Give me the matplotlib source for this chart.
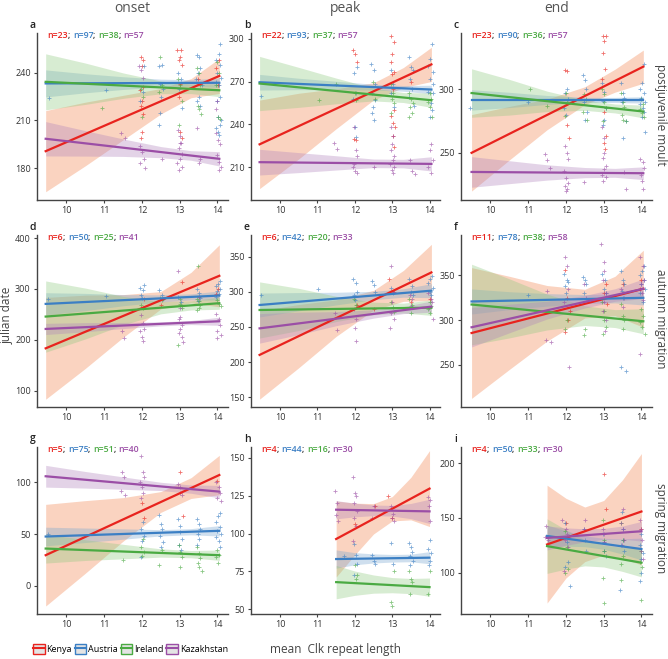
import matplotlib
matplotlib.use('Agg')
import matplotlib.pyplot as plt
from matplotlib.patches import Rectangle
from matplotlib.lines import Line2D

plt.rcParams['font.family'] = ['Open Sans', 'DejaVu Sans']

# группы и цвета
groups = ['Kenya', 'Austria', 'Ireland', 'Kazakhstan']
line_colors = ['#e8231e', '#3b7fc4', '#4aaa42', '#9b4ea6']
band_colors = ['#f3814b', '#76a6d1', '#8fc97f', '#b083bd']

col_titles = ['onset', 'peak', 'end']
row_titles = ['postjuvenile moult', 'autumn migration', 'spring migration']
x_ticks = [10, 11, 12, 13, 14]

# ---------- a: onset, postjuvenile moult ----------
a_n = [23, 97, 38, 57]
a_fit_x = [9.45, 14.05]
a_fit_y = [[190.7, 238.0], [233.3, 233.7], [234.3, 229.0], [198.5, 185.9]]
a_band_x = [9.45, 10.5, 11.5, 12.5, 13.3, 14.05]
a_band_lo = [[165.2, 181.5, 197.8, 214.1, 224.3, 227.0],
             [224.8, 227.4, 229.5, 231.0, 231.6, 230.7],
             [216.7, 220.1, 223.9, 226.8, 226.9, 225.0],
             [187.7, 187.6, 187.4, 186.6, 185.0, 181.4]]
a_band_hi = [[216.2, 221.5, 225.8, 230.1, 236.3, 249.0],
             [241.8, 239.4, 237.5, 236.0, 235.6, 236.7],
             [251.9, 246.1, 239.9, 234.8, 232.9, 233.0],
             [209.3, 203.6, 198.4, 193.6, 191.0, 190.4]]
a_pts = [
    [(11.97, 250), (12.02, 248), (11.99, 244), (12.03, 231), (11.96, 229), (12.01, 222), (11.98, 219),
     (12.04, 214), (12.0, 203), (11.97, 199), (12.94, 254), (13.04, 254), (13.0, 250), (12.98, 248),
     (13.06, 245), (13.02, 233), (12.97, 225), (13.01, 203), (13.05, 199), (13.48, 236), (14.02, 232),
     (13.96, 243), (14.05, 248)],
    [(9.55, 224), (11.04, 229), (12.02, 228), (11.95, 222), (12.06, 244), (12.45, 244), (12.52, 245),
     (12.48, 233), (12.55, 230), (12.5, 225), (12.47, 215), (12.44, 207), (12.96, 240), (13.03, 236),
     (12.99, 230), (13.05, 218), (13.46, 251), (13.52, 250), (13.55, 243), (13.49, 240), (13.44, 236),
     (13.58, 232), (13.5, 225), (13.47, 222), (13.53, 219), (14.08, 258), (14.03, 252), (13.97, 248),
     (14.06, 245), (14.0, 240), (14.1, 237), (13.95, 234), (14.04, 232), (14.07, 225), (13.98, 222),
     (14.02, 212), (14.09, 210), (13.96, 205), (14.05, 201), (14.01, 203), (14.08, 207)],
    [(10.95, 218), (12.0, 212), (12.04, 225), (11.97, 230), (12.48, 250), (12.53, 232), (12.46, 228),
     (12.96, 236), (13.02, 232), (13.05, 222), (12.99, 207), (13.45, 243), (13.5, 240), (13.55, 232),
     (13.48, 219), (13.52, 217), (13.56, 214), (14.0, 247), (14.05, 240), (13.97, 232), (14.02, 212),
     (14.07, 211)],
    [(11.45, 202), (11.55, 199), (11.93, 244), (11.98, 242), (12.02, 237), (12.05, 186), (11.96, 183),
     (12.08, 180), (12.0, 190), (11.95, 194), (12.52, 186), (12.95, 204), (13.02, 200), (13.0, 196),
     (12.97, 193), (13.05, 189), (13.01, 186), (12.94, 183), (13.06, 181), (12.99, 179), (13.03, 196),
     (13.47, 205), (13.53, 186), (13.5, 183), (13.95, 202), (14.02, 198), (14.07, 195), (13.98, 188),
     (14.04, 184), (14.1, 181), (14.05, 179), (13.97, 217), (14.0, 222)],
]

# ---------- b: peak, postjuvenile moult ----------
b_n = [22, 93, 37, 57]
b_fit_x = [9.45, 14.05]
b_fit_y = [[226.0, 282.0], [269.5, 264.4], [268.6, 256.9], [213.5, 212.3]]
b_band_x = [9.45, 10.5, 11.5, 12.5, 13.3, 14.05]
b_band_lo = [[195.0, 215.8, 236.9, 257.1, 265.8, 270.0],
             [264.0, 264.3, 264.2, 264.1, 263.2, 261.4],
             [249.6, 251.9, 254.4, 256.4, 255.3, 251.9],
             [204.5, 206.2, 208.0, 209.7, 209.5, 207.3]]
b_band_hi = [[257.0, 261.8, 264.9, 269.1, 279.8, 294.0],
             [275.0, 272.3, 270.2, 268.1, 267.2, 267.4],
             [287.6, 279.9, 272.4, 265.4, 262.3, 261.9],
             [222.5, 220.2, 218.0, 215.7, 215.5, 217.3]]
b_pts = [
    [(11.96, 292), (12.01, 289), (12.05, 284), (11.98, 230), (12.03, 229), (12.96, 302), (13.04, 298),
     (13.0, 289), (12.97, 284), (13.05, 277), (12.99, 275), (13.02, 265), (13.06, 250), (12.98, 246),
     (13.03, 241), (13.07, 238), (13.01, 232), (13.04, 224), (13.5, 270)],
    [(9.5, 260), (12.05, 280), (11.97, 276), (12.02, 262), (11.95, 258), (12.0, 238), (12.04, 231),
     (12.44, 282), (12.5, 278), (12.55, 268), (12.47, 262), (12.53, 257), (12.49, 252), (12.45, 248),
     (12.52, 243), (12.96, 278), (13.02, 268), (12.98, 262), (13.05, 252), (13.45, 287), (13.5, 280),
     (13.55, 278), (13.48, 272), (13.52, 265), (13.46, 259), (13.58, 253), (14.06, 296), (14.02, 286),
     (13.97, 281), (14.08, 277), (14.0, 272), (14.1, 268), (13.95, 263), (14.04, 255), (14.07, 250),
     (14.01, 245), (14.09, 262)],
    [(11.05, 257), (11.5, 268), (12.0, 262), (12.04, 257), (12.48, 270), (12.53, 258), (12.96, 268),
     (13.02, 262), (13.0, 258), (13.05, 255), (12.98, 248), (13.45, 262), (13.5, 258), (13.55, 255),
     (13.48, 252), (13.52, 248), (13.46, 245), (14.0, 262), (14.05, 258), (13.97, 256), (14.02, 252),
     (14.07, 245)],
    [(11.45, 227), (11.52, 223), (11.97, 238), (12.02, 222), (12.05, 218), (11.95, 210), (12.0, 207),
     (12.06, 206), (11.98, 212), (12.5, 210), (12.96, 238), (13.02, 232), (13.0, 226), (12.97, 222),
     (13.05, 218), (13.01, 215), (12.95, 212), (13.06, 210), (12.99, 208), (13.03, 206), (13.47, 215),
     (13.53, 207), (13.6, 205), (14.05, 226), (14.0, 222), (14.08, 215), (13.97, 210), (14.03, 206)],
]

# ---------- c: end, postjuvenile moult ----------
c_n = [23, 90, 36, 57]
c_fit_x = [9.5, 14.05]
c_fit_y = [[250.0, 317.6], [291.5, 291.5], [296.9, 282.4], [235.0, 234.0]]
c_band_x = [9.5, 10.5, 11.5, 12.5, 13.3, 14.05]
c_band_lo = [[220.0, 244.4, 268.1, 287.8, 297.6, 304.6],
             [283.5, 285.5, 288.0, 289.5, 289.5, 289.0],
             [277.9, 279.6, 282.4, 283.3, 281.3, 277.4],
             [223.0, 225.8, 228.6, 230.5, 230.8, 229.0]]
c_band_hi = [[280.0, 286.4, 292.1, 301.8, 315.6, 330.6],
             [299.5, 297.5, 295.0, 293.5, 293.5, 294.0],
             [315.9, 307.6, 298.4, 291.3, 288.3, 287.4],
             [247.0, 243.8, 240.6, 238.5, 237.8, 239.0]]
c_pts = [
    [(11.97, 315), (12.02, 314), (12.04, 272), (12.07, 262), (12.98, 342), (13.05, 342), (13.01, 338),
     (12.97, 328), (13.03, 316), (12.96, 308), (13.02, 282), (13.06, 263), (13.0, 258), (13.04, 253)],
    [(9.45, 285), (11.0, 290), (12.02, 300), (11.97, 297), (12.05, 292), (11.95, 285), (12.0, 280),
     (12.45, 311), (12.5, 307), (12.53, 300), (12.47, 290), (12.55, 282), (12.5, 276), (12.96, 305),
     (13.02, 298), (12.99, 291), (13.05, 285), (13.0, 276), (12.97, 272), (13.45, 305), (13.5, 297),
     (13.55, 293), (13.48, 290), (13.52, 262), (13.58, 275), (14.06, 320), (14.02, 305), (13.97, 300),
     (14.08, 297), (14.0, 293), (14.1, 290), (13.95, 288), (14.04, 285), (14.07, 282), (14.01, 278),
     (14.09, 266)],
    [(11.05, 300), (11.5, 287), (12.0, 297), (12.04, 290), (11.97, 279), (12.48, 296), (12.53, 292),
     (12.46, 282), (12.55, 276), (12.96, 300), (13.02, 296), (13.0, 290), (13.05, 285), (12.98, 275),
     (13.45, 297), (13.5, 290), (13.55, 286), (13.48, 280), (13.52, 276), (13.58, 275), (14.0, 292),
     (14.05, 288), (13.97, 284), (14.02, 281), (14.07, 278)],
    [(11.45, 249), (11.5, 244), (11.58, 238), (11.97, 255), (12.02, 250), (12.05, 245), (11.95, 236),
     (12.0, 230), (12.06, 226), (11.98, 224), (12.03, 222), (12.01, 220), (12.47, 227), (12.96, 270),
     (13.02, 262), (13.0, 250), (12.97, 246), (13.05, 240), (13.01, 237), (12.95, 233), (13.06, 231),
     (12.99, 228), (13.53, 235), (13.6, 222), (13.95, 245), (14.04, 243), (14.07, 238), (13.98, 233),
     (14.02, 228), (14.05, 222)],
]

# ---------- d: onset, autumn migration ----------
d_n = [6, 50, 25, 41]
d_fit_x = [9.45, 14.05]
d_fit_y = [[183.3, 325.8], [270.6, 287.0], [245.7, 272.0], [221.4, 236.5]]
d_band_x = [9.45, 10.5, 11.5, 12.5, 13.3, 14.05]
d_band_lo = [[83.3, 143.8, 204.8, 260.8, 272.6, 264.8],
             [248.6, 257.3, 266.9, 274.4, 278.3, 278.0],
             [175.7, 201.7, 229.4, 251.1, 258.7, 260.0],
             [210.4, 215.8, 222.1, 227.4, 230.0, 228.5]]
d_band_hi = [[283.3, 287.8, 288.8, 294.8, 332.6, 386.8],
             [292.6, 291.3, 288.9, 288.4, 290.3, 296.0],
             [315.7, 301.7, 285.4, 275.1, 276.7, 284.0],
             [232.4, 233.8, 234.1, 235.4, 238.0, 244.5]]
d_pts = [
    [(12.05, 281), (12.5, 268), (13.05, 314), (13.95, 291), (14.02, 300), (13.5, 285)],
    [(9.5, 280), (11.05, 286), (11.95, 302), (12.02, 298), (12.06, 308), (11.98, 288), (12.0, 282),
     (12.45, 298), (12.52, 288), (12.55, 280), (12.96, 285), (13.03, 275), (13.45, 300), (13.5, 292),
     (13.55, 283), (13.48, 276), (14.06, 315), (14.02, 310), (13.97, 305), (14.08, 300), (14.0, 296),
     (14.04, 290), (13.96, 284)],
    [(11.97, 268), (12.03, 262), (12.48, 283), (12.53, 278), (12.96, 190), (13.02, 280), (13.0, 270),
     (13.05, 263), (13.48, 346), (13.45, 280), (13.5, 276), (13.55, 268), (13.52, 263), (13.47, 258),
     (14.0, 278), (14.05, 270), (14.1, 266)],
    [(11.47, 218), (11.52, 203), (11.97, 248), (12.02, 234), (12.05, 222), (11.96, 217), (12.0, 205),
     (12.04, 198), (12.96, 335), (13.02, 262), (13.0, 245), (12.97, 240), (13.05, 230), (13.01, 222),
     (12.98, 214), (13.06, 205), (13.1, 195), (13.95, 250), (14.04, 240), (14.07, 230), (13.98, 218),
     (14.1, 210), (14.0, 204)],
]

# ---------- e: peak, autumn migration ----------
e_n = [6, 42, 20, 33]
e_fit_x = [9.45, 14.05]
e_fit_y = [[210.2, 327.7], [281.3, 301.7], [274.2, 277.5], [248.0, 279.0]]
e_band_x = [9.45, 10.5, 11.5, 12.5, 13.3, 14.05]
e_band_lo = [[147.2, 192.0, 236.6, 274.1, 286.5, 287.7],
             [264.3, 273.0, 281.4, 288.8, 292.4, 291.7],
             [234.2, 245.0, 257.7, 267.4, 269.9, 266.5],
             [227.0, 239.1, 251.8, 262.6, 269.0, 271.0]]
e_band_hi = [[273.2, 282.0, 288.6, 302.1, 330.5, 367.7],
             [298.3, 299.0, 299.4, 300.8, 304.4, 311.7],
             [314.2, 305.0, 293.7, 285.4, 283.9, 288.5],
             [269.0, 271.1, 271.8, 274.6, 279.0, 287.0]]
e_pts = [
    [(12.05, 282), (12.92, 318), (13.05, 300), (14.0, 290), (13.5, 285), (12.5, 275)],
    [(9.5, 295), (11.02, 304), (11.95, 318), (12.02, 312), (12.05, 300), (11.98, 295), (12.0, 288),
     (12.45, 316), (12.5, 310), (12.53, 300), (12.97, 305), (13.03, 298), (13.45, 318), (13.52, 308),
     (13.5, 300), (13.55, 295), (14.06, 322), (14.02, 318), (13.97, 312), (14.08, 305), (14.0, 300),
     (14.04, 295)],
    [(11.98, 290), (12.03, 282), (12.97, 285), (13.02, 278), (13.05, 272), (13.45, 290), (13.52, 282),
     (13.5, 270), (14.0, 285), (14.05, 280), (13.97, 275), (14.02, 270)],
    [(11.47, 270), (11.52, 245), (11.97, 275), (12.02, 262), (12.0, 248), (12.03, 230), (12.96, 337),
     (13.02, 300), (13.0, 285), (12.97, 270), (13.05, 262), (12.94, 248), (13.47, 295), (13.53, 290),
     (13.5, 280), (13.95, 298), (14.04, 290), (14.07, 285), (13.98, 277), (14.1, 262)],
]

# ---------- f: end, autumn migration ----------
f_n = [11, 78, 38, 58]
f_fit_x = [9.5, 14.05]
f_fit_y = [[285.6, 335.0], [320.8, 324.9], [317.4, 298.7], [292.0, 335.0]]
f_band_x = [9.5, 10.5, 11.5, 12.5, 13.3, 14.05]
f_band_lo = [[212.6, 244.9, 276.6, 302.4, 304.9, 292.0],
             [306.8, 311.7, 315.6, 318.5, 319.2, 316.9],
             [272.4, 280.1, 289.0, 294.0, 291.7, 284.7],
             [270.0, 285.8, 301.2, 313.5, 321.0, 324.0]]
f_band_hi = [[358.6, 348.9, 338.6, 334.4, 348.9, 378.0],
             [334.8, 331.7, 329.6, 328.5, 329.2, 332.9],
             [362.4, 346.1, 329.0, 316.0, 311.7, 312.7],
             [314.0, 317.8, 321.2, 327.5, 335.0, 346.0]]
f_pts = [
    [(11.97, 356), (12.02, 325), (12.05, 300), (11.98, 287), (12.1, 310), (13.0, 330), (13.1, 318),
     (13.05, 340), (13.5, 340), (14.0, 345), (13.97, 335)],
    [(11.0, 328), (11.95, 352), (12.02, 345), (12.05, 343), (11.98, 338), (12.0, 330), (12.45, 348),
     (12.5, 345), (12.53, 340), (12.47, 330), (12.96, 352), (13.03, 345), (13.0, 335), (13.05, 330),
     (13.45, 355), (13.5, 345), (13.55, 340), (13.48, 333), (13.52, 325), (13.47, 248), (13.58, 243),
     (14.06, 360), (14.02, 355), (13.97, 350), (14.08, 345), (14.0, 340), (14.1, 335), (13.95, 330),
     (14.04, 320)],
    [(12.02, 300), (11.98, 290), (12.5, 290), (12.47, 283), (12.96, 320), (13.02, 310), (13.0, 300),
     (13.05, 292), (12.98, 284), (13.45, 318), (13.5, 305), (13.55, 300), (13.52, 290), (14.0, 312),
     (14.05, 305), (13.97, 298), (14.02, 292), (14.1, 285)],
    [(11.5, 333), (11.47, 278), (11.6, 275), (11.97, 370), (12.02, 360), (12.05, 335), (11.96, 320),
     (12.08, 248), (12.48, 340), (12.53, 325), (12.94, 385), (13.02, 365), (13.0, 355), (12.97, 345),
     (13.05, 330), (13.01, 320), (12.98, 310), (13.06, 300), (13.03, 288), (13.47, 335), (13.53, 325),
     (13.5, 315), (13.95, 370), (14.04, 360), (14.07, 345), (13.98, 340), (14.02, 330), (14.05, 322),
     (13.96, 262)],
]

# ---------- g: onset, spring migration ----------
g_n = [5, 75, 51, 40]
g_fit_x = [9.45, 14.05]
g_fit_y = [[29.7, 107.0], [47.7, 53.2], [36.1, 29.7], [105.8, 91.0]]
g_band_x = [9.45, 10.5, 11.5, 12.5, 13.3, 14.05]
g_band_lo = [[-19.3, 12.3, 43.2, 71.0, 84.4, 88.0],
             [38.7, 41.9, 45.1, 48.3, 49.3, 48.2],
             [22.1, 24.6, 26.2, 27.8, 27.2, 24.7],
             [95.3, 94.4, 93.2, 92.0, 89.4, 85.0]]
g_band_hi = [[78.7, 82.3, 85.2, 91.0, 104.4, 126.0],
             [56.7, 55.9, 55.1, 54.3, 55.3, 58.2],
             [50.1, 44.6, 40.2, 35.8, 34.2, 34.7],
             [116.3, 110.4, 105.2, 100.0, 97.4, 97.0]]
g_pts = [
    [(12.0, 80), (12.05, 66), (13.0, 110), (13.1, 67), (14.0, 101)],
    [(9.5, 50), (12.02, 62), (11.97, 55), (12.05, 48), (12.0, 43), (11.98, 28), (12.45, 68),
     (12.5, 60), (12.53, 55), (12.47, 48), (12.55, 42), (12.5, 38), (12.96, 65), (13.02, 58),
     (13.0, 52), (13.05, 45), (12.98, 40), (13.03, 35), (13.45, 65), (13.5, 60), (13.55, 55),
     (13.48, 50), (13.52, 45), (13.47, 40), (14.06, 70), (14.02, 67), (13.97, 62), (14.08, 57),
     (14.0, 53), (14.1, 50), (13.95, 47), (14.04, 43), (14.07, 38)],
    [(11.5, 25), (12.02, 45), (11.98, 38), (12.05, 33), (12.0, 29), (12.45, 20), (12.52, 35),
     (12.97, 40), (13.02, 33), (13.05, 28), (13.0, 18), (13.45, 38), (13.5, 32), (13.55, 27),
     (13.48, 22), (13.52, 18), (13.58, 14), (14.0, 35), (14.05, 30), (13.97, 28), (14.02, 22)],
    [(11.47, 110), (11.52, 105), (11.45, 92), (11.55, 88), (11.97, 125), (12.02, 110), (12.05, 105),
     (11.96, 100), (12.0, 95), (12.04, 90), (11.98, 85), (12.96, 98), (13.02, 95), (13.0, 90),
     (13.05, 88), (13.95, 100), (14.04, 95), (14.07, 90), (13.98, 85), (14.1, 82)],
]

# ---------- h: peak, spring migration ----------
h_n = [4, 44, 16, 30]
h_fit_x = [11.5, 14.0]
h_fit_y = [[96.4, 129.6], [83.2, 84.1], [68.0, 64.7], [115.7, 114.6]]
h_band_x = [11.5, 12.0, 12.5, 13.0, 13.5, 14.0]
h_band_lo = [[71.4, 86.0, 99.7, 108.3, 109.0, 104.6],
             [77.2, 79.4, 80.6, 81.2, 81.4, 80.1],
             [57.0, 59.3, 60.7, 61.0, 60.4, 58.7],
             [109.7, 111.0, 111.8, 111.5, 109.8, 106.6]]
h_band_hi = [[121.4, 120.0, 119.7, 124.3, 137.0, 154.6],
             [89.2, 87.4, 86.6, 86.2, 86.4, 88.1],
             [79.0, 75.3, 72.7, 71.0, 70.4, 70.7],
             [121.7, 120.0, 118.8, 118.5, 119.8, 122.6]]
h_pts = [
    [(12.0, 106), (12.9, 125), (13.0, 110), (12.55, 118)],
    [(11.7, 85), (11.97, 93), (12.02, 86), (12.05, 80), (11.98, 73), (12.45, 86), (12.5, 82),
     (12.55, 80), (12.97, 94), (13.03, 80), (13.45, 94), (13.5, 91), (13.52, 88), (13.48, 85),
     (13.55, 82), (13.47, 79), (14.0, 96), (13.97, 90), (14.03, 87), (14.0, 82), (13.98, 79)],
    [(12.0, 79), (12.05, 73), (12.03, 70), (12.97, 55), (13.0, 52), (13.05, 75), (13.45, 75),
     (13.5, 70), (13.52, 68), (13.48, 60), (14.0, 75), (13.97, 60)],
    [(11.47, 128), (11.52, 120), (11.5, 112), (11.55, 108), (11.95, 137), (12.0, 127), (12.03, 125),
     (11.97, 120), (12.05, 115), (11.98, 110), (12.02, 105), (11.96, 95), (12.5, 118), (12.47, 110),
     (12.97, 118), (13.02, 113), (13.0, 110), (13.05, 108), (13.97, 124), (14.0, 122), (13.98, 118),
     (14.02, 108)],
]

# ---------- i: end, spring migration ----------
i_n = [4, 50, 33, 30]
i_fit_x = [11.5, 14.0]
i_fit_y = [[125.7, 155.9], [133.5, 121.5], [124.2, 109.0], [131.7, 137.8]]
i_band_x = [11.5, 12.0, 12.5, 13.0, 13.5, 14.0]
i_band_lo = [[72.0, 95.0, 110.0, 116.0, 113.0, 107.0],
             [123.5, 124.1, 123.7, 121.3, 116.9, 111.5],
             [99.2, 103.2, 106.1, 105.1, 101.0, 96.0],
             [120.7, 124.9, 128.1, 130.4, 130.6, 128.8]]
i_band_hi = [[180.0, 168.0, 160.0, 166.0, 185.0, 209.0],
             [143.5, 138.1, 133.7, 131.3, 130.9, 131.5],
             [149.2, 139.2, 130.1, 125.1, 123.0, 122.0],
             [142.7, 140.9, 140.1, 140.4, 142.6, 146.8]]
i_pts = [
    [(13.02, 190), (13.05, 158), (12.0, 145), (14.0, 140)],
    [(11.97, 145), (12.02, 128), (12.05, 110), (11.98, 105), (12.1, 88), (12.47, 140), (12.5, 130),
     (12.53, 120), (12.97, 135), (13.02, 128), (13.0, 120), (13.05, 115), (13.48, 155), (13.52, 140),
     (13.5, 130), (13.47, 125), (13.55, 120), (13.43, 84), (14.0, 135), (13.97, 125), (14.03, 118),
     (14.0, 112), (13.98, 100), (13.95, 92)],
    [(11.97, 138), (12.02, 123), (12.05, 103), (11.98, 100), (12.97, 148), (13.02, 130), (13.0, 120),
     (12.98, 95), (13.02, 72), (13.45, 145), (13.5, 130), (13.52, 115), (13.47, 108), (13.45, 93),
     (14.0, 120), (13.97, 110), (14.02, 105), (14.0, 75)],
    [(11.47, 143), (11.45, 133), (11.52, 130), (11.9, 148), (12.0, 140), (12.03, 135), (11.97, 130),
     (12.05, 123), (11.95, 101), (12.5, 148), (12.47, 140), (12.97, 140), (13.02, 135), (13.0, 128),
     (13.52, 158), (13.47, 145), (13.5, 140), (13.55, 130), (13.48, 125), (13.97, 148), (14.0, 140),
     (14.02, 130), (13.98, 120), (14.03, 112)],
]

# пределы и деления осей y
y_limits = {'a': (160, 265), 'b': (187, 304), 'c': (213, 344),
            'd': (68, 406), 'e': (136, 381), 'f': (203, 395),
            'g': (-27, 134), 'h': (47, 157), 'i': (62, 215)}
y_ticks = {'a': [180, 210, 240], 'b': [210, 240, 270, 300], 'c': [250, 300],
           'd': [100, 200, 300, 400], 'e': [150, 200, 250, 300, 350], 'f': [250, 300, 350],
           'g': [0, 50, 100], 'h': [50, 75, 100, 125, 150], 'i': [100, 150, 200]}

panels = [
    ('a', a_n, a_fit_x, a_fit_y, a_band_x, a_band_lo, a_band_hi, a_pts),
    ('b', b_n, b_fit_x, b_fit_y, b_band_x, b_band_lo, b_band_hi, b_pts),
    ('c', c_n, c_fit_x, c_fit_y, c_band_x, c_band_lo, c_band_hi, c_pts),
    ('d', d_n, d_fit_x, d_fit_y, d_band_x, d_band_lo, d_band_hi, d_pts),
    ('e', e_n, e_fit_x, e_fit_y, e_band_x, e_band_lo, e_band_hi, e_pts),
    ('f', f_n, f_fit_x, f_fit_y, f_band_x, f_band_lo, f_band_hi, f_pts),
    ('g', g_n, g_fit_x, g_fit_y, g_band_x, g_band_lo, g_band_hi, g_pts),
    ('h', h_n, h_fit_x, h_fit_y, h_band_x, h_band_lo, h_band_hi, h_pts),
    ('i', i_n, i_fit_x, i_fit_y, i_band_x, i_band_lo, i_band_hi, i_pts),
]

W, H = 668, 659
fig = plt.figure(figsize=(W / 100, H / 100), dpi=100)

# положения осей в пикселях
col_left = [37, 251, 461]
col_right = [228, 440, 652]
row_top_bottom = [(33, 200), (235, 407), (447, 614)]
spine_col = '#444444'

for k, (letter, n, fx, fy, bx, blo, bhi, pts) in enumerate(panels):
    r, c = divmod(k, 3)
    top, bottom = row_top_bottom[r]
    ax = fig.add_axes([col_left[c] / W, 1 - bottom / H,
                       (col_right[c] - col_left[c]) / W, (bottom - top) / H])

    for g in range(4):
        ax.fill_between(bx, blo[g], bhi[g], color=band_colors[g], alpha=0.35, lw=0, zorder=1)
    for g in range(4):
        xs = [p[0] for p in pts[g]]
        ys = [p[1] for p in pts[g]]
        ax.scatter(xs, ys, marker='+', s=6, linewidths=0.6, color=line_colors[g], alpha=0.65, zorder=2)
    for g in range(4):
        ax.plot(fx, fy[g], color=line_colors[g], lw=1.6, zorder=3)

    ax.set_xlim(9.22, 14.28)
    ax.set_ylim(*y_limits[letter])
    ax.set_xticks(x_ticks)
    ax.set_yticks(y_ticks[letter])
    for s in ['top', 'right']:
        ax.spines[s].set_visible(False)
    for s in ['left', 'bottom']:
        ax.spines[s].set_color(spine_col)
        ax.spines[s].set_linewidth(1.0)
    ax.tick_params(labelsize=6.5, length=2.5, width=0.8, color=spine_col, labelcolor='#333333', pad=2)

    # подписи n=...
    prev = ax.text(0.055, 0.985, 'n=%d' % n[0], transform=ax.transAxes, fontsize=6.3,
                   fontweight='semibold', color=line_colors[0], va='center', ha='left')
    for g in range(1, 4):
        prev = ax.annotate('; ', xy=(1, 0), xycoords=prev, fontsize=6.3, color='#333333',
                           fontweight='semibold', va='bottom', ha='left')
        prev = ax.annotate('n=%d' % n[g], xy=(1, 0), xycoords=prev, fontsize=6.3,
                           fontweight='semibold', color=line_colors[g], va='bottom', ha='left')

    # буква панели
    fig.text((col_left[c] - 7) / W, 1 - (top - 8) / H, letter, fontsize=7.5,
             fontweight='semibold', color='#222222', ha='left', va='center')

# заголовки столбцов и строк
for c, t in enumerate(col_titles):
    fig.text((col_left[c] + col_right[c]) / 2 / W, 1 - 8 / H, t, fontsize=10,
             color='#555555', ha='center', va='center')
for r, t in enumerate(row_titles):
    top, bottom = row_top_bottom[r]
    fig.text(661 / W, 1 - ((top + bottom) / 2 - 2) / H, t, fontsize=8.5, rotation=-90,
             color='#444444', ha='center', va='center')

fig.text(7 / W, 1 - 315 / H, 'julian date', fontsize=8.5, rotation=90,
         color='#444444', ha='center', va='center')
fig.text(336 / W, 1 - 650 / H, 'mean  Clk repeat length', fontsize=8.5,
         color='#444444', ha='center', va='center')

# легенда
handles = []
for g in range(4):
    box = Rectangle((0, 0), 1, 1, facecolor='#e4e4e4', edgecolor=line_colors[g], lw=1.0)
    ln = Line2D([0], [0], color=line_colors[g], lw=1.5)
    handles.append((box, ln))
fig.legend(handles, groups, loc='center left', bbox_to_anchor=(33 / W, 1 - 649 / H),
           ncol=4, frameon=False, fontsize=6.5, handlelength=1.3, handleheight=1.3,
           handletextpad=0.2, columnspacing=0.3, borderpad=0, borderaxespad=0)

plt.savefig('out.png', dpi=100)
